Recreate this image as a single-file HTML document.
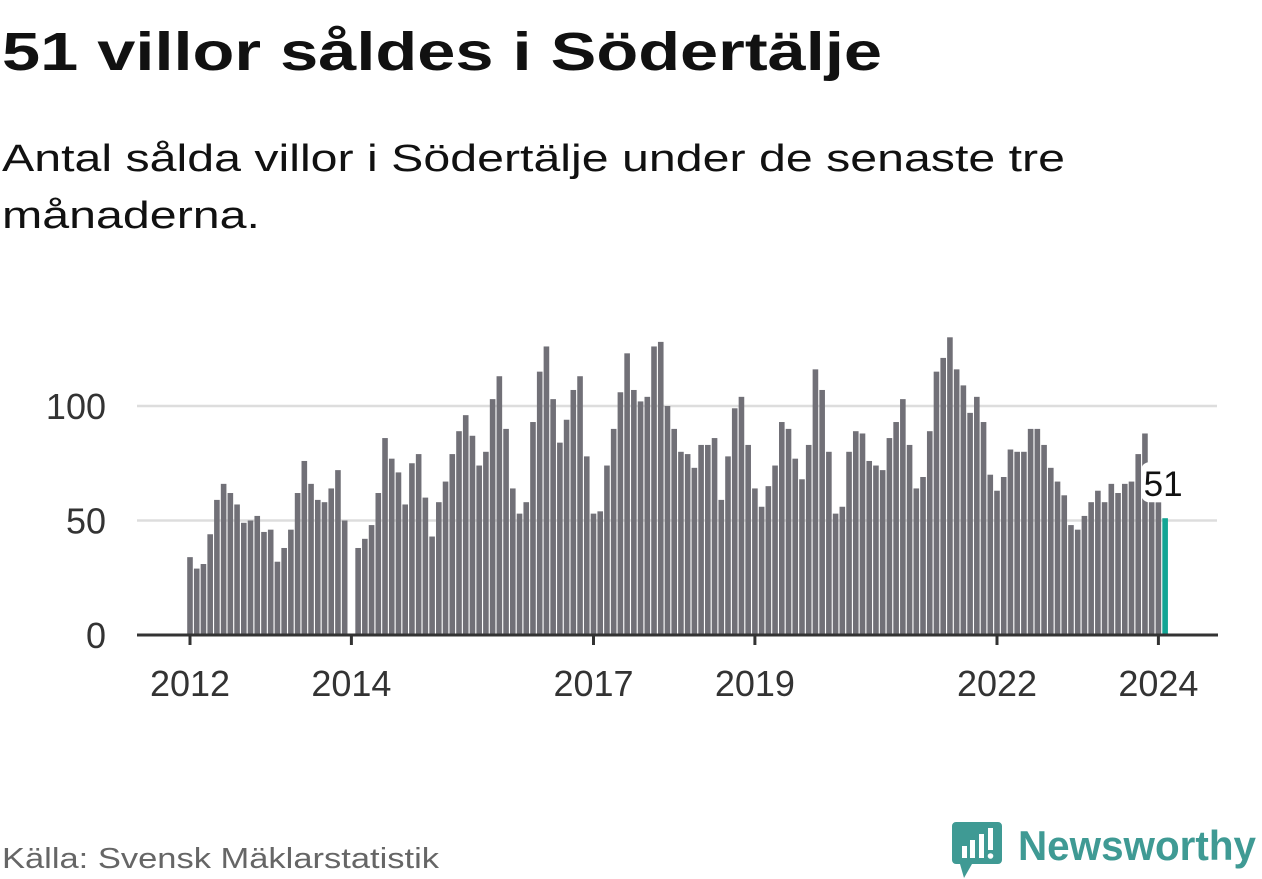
<!DOCTYPE html>
<html><head><meta charset="utf-8"><style>
body{margin:0;background:#fff;width:1262px;height:879px;overflow:hidden}
svg{display:block;font-family:"Liberation Sans",sans-serif}
</style></head><body>
<svg id="chart" width="1262" height="879" viewBox="0 0 1262 879">
<text x="2" y="70" font-size="54" font-weight="bold" fill="#111" textLength="880" lengthAdjust="spacingAndGlyphs">51 villor såldes i Södertälje</text>
<text x="2" y="171" font-size="38" fill="#111" textLength="1063" lengthAdjust="spacingAndGlyphs">Antal sålda villor i Södertälje under de senaste tre</text>
<text x="2" y="228" font-size="38" fill="#111" textLength="258" lengthAdjust="spacingAndGlyphs">månaderna.</text>
<g id="grid"></g><g id="bars"></g><g id="axes"></g>
<text x="2" y="868" font-size="29" fill="#666" textLength="437" lengthAdjust="spacingAndGlyphs">Källa: Svensk Mäklarstatistik</text>
<g>
<path d="M956 822 h42 a4 4 0 0 1 4 4 v34 a4 4 0 0 1 -4 4 h-26 l-8 14 l-4 -14 h-4 a4 4 0 0 1 -4 -4 v-34 a4 4 0 0 1 4 -4z" fill="#3f9a94"/>
<rect x="962" y="846" width="5" height="12" fill="#fff"/><rect x="970" y="840" width="5" height="18" fill="#fff"/><rect x="979" y="834" width="5" height="24" fill="#fff"/><rect x="988" y="828" width="5" height="22" fill="#fff"/><circle cx="990.5" cy="856" r="2.8" fill="#fff"/>
<text x="1018" y="860" font-size="42" font-weight="bold" fill="#3f9a94" textLength="238" lengthAdjust="spacingAndGlyphs">Newsworthy</text>
</g>
</svg>
<script>
const values=[34,29,31,44,59,66,62,57,49,50,52,45,
46,32,38,46,62,76,66,59,58,64,72,50,
null,38,42,48,62,86,77,71,57,75,79,60,
43,58,67,79,89,96,87,74,80,103,113,90,
64,53,58,93,115,126,103,84,94,107,113,78,
53,54,74,90,106,123,107,102,104,126,128,100,
90,80,79,73,83,83,86,59,78,99,104,83,
64,56,65,74,93,90,77,68,83,116,107,80,
53,56,80,89,88,76,74,72,86,93,103,83,
64,69,89,115,121,130,116,109,97,104,93,70,
63,69,81,80,80,90,90,83,73,67,61,48,
46,52,58,63,58,66,62,66,67,79,88,62,
58,51];
const yTicks=[0,50,100];
const xTickYears=[2012,2014,2017,2019,2022,2024];
const NS="http://www.w3.org/2000/svg";
const x0=190,step=80.7/12,y0=635,yScale=(100-0)/ (635-406);
function xPos(i){return x0+i*step;}
function yPos(v){return y0-v/yScale;}
function mk(t,a,p){const e=document.createElementNS(NS,t);for(const k in a)e.setAttribute(k,a[k]);p.appendChild(e);return e;}
const grid=document.getElementById('grid'),bars=document.getElementById('bars'),axes=document.getElementById('axes');
yTicks.forEach(v=>{
 if(v>0){const l=mk('line',{x1:137,x2:1217,y1:yPos(v),y2:yPos(v),stroke:'#dddddd','stroke-width':2.5},grid);
 
 }
 const t=mk('text',{x:106,y:yPos(v)+13,'text-anchor':'end','font-size':36,fill:'#333'},axes);t.textContent=v;
 
 
});
values.forEach((v,i)=>{
 if(v==null)return;
 const last=i===values.length-1;
 const r=mk('rect',{x:xPos(i)-2.8,y:yPos(v),width:5.6,height:y0-yPos(v),fill:last?'#12a594':'#717077'},bars);
 
 
});
const ax=mk('line',{x1:137,x2:1218,y1:y0,y2:y0,stroke:'#333','stroke-width':3},axes);


xTickYears.forEach(yr=>{
 const x=xPos((yr-2012)*12);
 const tk=mk('line',{x1:x,x2:x,y1:y0,y2:y0+10,stroke:'#333','stroke-width':3},axes);
 
 
 const t=mk('text',{x:x,y:696,'text-anchor':'middle','font-size':36,fill:'#333'},axes);t.textContent=yr;
 
 
});
const li=values.length-1,lv=values[li];
const bg=mk('rect',{x:xPos(li)-24,y:yPos(lv)-56,width:46,height:40,rx:8,fill:'#fff'},axes);


const lt=mk('text',{x:xPos(li)-2,y:yPos(lv)-22,'text-anchor':'middle','font-size':35,fill:'#111'},axes);lt.textContent=lv;


</script>
</body></html>
